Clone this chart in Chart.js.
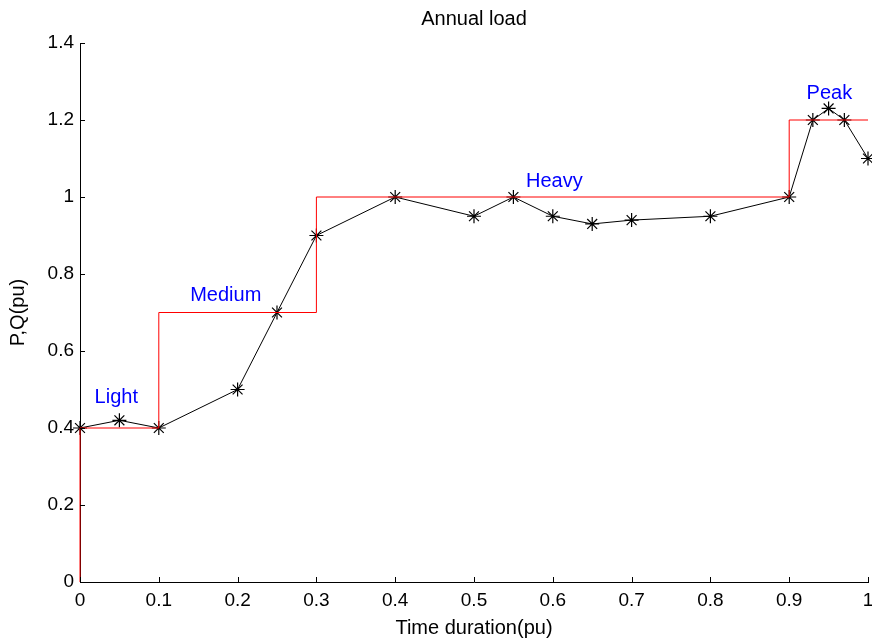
<!DOCTYPE html>
<html lang="en">
<head>
    <meta charset="UTF-8">
    <title>Annual load</title>
    <script src="https://cdn.jsdelivr.net/npm/chart.js"></script>
    <style>
        body { margin: 0; background: #fff; }
    </style>
</head>
<body>
    <canvas id="loadChart" width="872" height="643"></canvas>

    <script>
        // load curve (black, asterisk markers)
        var timePu = [0, 0.05, 0.1, 0.2, 0.25, 0.3, 0.4, 0.5, 0.55, 0.6, 0.65, 0.7, 0.8, 0.9, 0.93, 0.95, 0.97, 1.0];
        var loadPu = [0.4, 0.42, 0.4, 0.5, 0.7, 0.9, 1.0, 0.95, 1.0, 0.95, 0.93, 0.94, 0.95, 1.0, 1.2, 1.23, 1.2, 1.1];

        // load levels (red steps)
        var levelStart = [0, 0, 0.1, 0.3, 0.9, 1.0];
        var levelValue = [0, 0.4, 0.7, 1.0, 1.2, 1.2];

        // level names and where they sit
        var levelNames = ['Light', 'Medium', 'Heavy', 'Peak'];
        var labelX = [0.046, 0.185, 0.602, 0.951];
        var labelY = [0.48, 0.745, 1.04, 1.27];

        var xTicks = [0, 0.1, 0.2, 0.3, 0.4, 0.5, 0.6, 0.7, 0.8, 0.9, 1];
        var yTicks = [0, 0.2, 0.4, 0.6, 0.8, 1, 1.2, 1.4];

        var chartTitle = 'Annual load';
        var font = 'Liberation Sans, Arial, sans-serif';

        function tickText(v) { return String(Math.round(v * 10) / 10); }

        // title, inward tick marks and level names
        var extras = {
            id: 'extras',
            afterDraw: function(chart) {
                var c = chart.ctx;
                var xs = chart.scales.x, ys = chart.scales.y;
                var area = chart.chartArea;
                c.save();
                c.strokeStyle = '#000';
                c.lineWidth = 1;
                c.beginPath();
                xTicks.forEach(function(t) {
                    var px = Math.round(xs.getPixelForValue(t)) + 0.5;
                    c.moveTo(px, area.bottom);
                    c.lineTo(px, area.bottom - 5);
                });
                yTicks.forEach(function(t) {
                    var py = Math.round(ys.getPixelForValue(t)) + 0.5;
                    c.moveTo(area.left, py);
                    c.lineTo(area.left + 5, py);
                });
                c.stroke();

                c.textAlign = 'center';
                c.textBaseline = 'middle';
                c.fillStyle = '#000';
                c.font = '20px ' + font;
                c.fillText(chartTitle, (area.left + area.right) / 2, 19);

                c.fillStyle = '#0000ff';
                c.font = '20px ' + font;
                levelNames.forEach(function(name, i) {
                    c.fillText(name, xs.getPixelForValue(labelX[i]), ys.getPixelForValue(labelY[i]));
                });
                c.restore();
            }
        };

        var ctx = document.getElementById('loadChart').getContext('2d');
        var loadChart = new Chart(ctx, {
            type: 'scatter',
            data: {
                datasets: [
                    {
                        label: 'Levels',
                        data: levelStart.map(function(x, i) { return { x: x, y: levelValue[i] }; }),
                        showLine: true,
                        stepped: 'before',
                        borderColor: '#ff0000',
                        borderWidth: 1,
                        pointRadius: 0,
                        clip: false
                    },
                    {
                        label: 'Load',
                        data: timePu.map(function(x, i) { return { x: x, y: loadPu[i] }; }),
                        showLine: true,
                        borderColor: '#000',
                        borderWidth: 1,
                        pointStyle: 'star',
                        pointRadius: 7,
                        pointBorderColor: '#000',
                        pointBorderWidth: 1.2,
                        pointBackgroundColor: '#000',
                        clip: false
                    }
                ]
            },
            options: {
                responsive: false,
                animation: false,
                layout: { autoPadding: false, padding: { left: 0, right: 4, top: 43, bottom: 0 } },
                plugins: {
                    legend: { display: false },
                    tooltip: { enabled: false },
                    title: { display: false }
                },
                scales: {
                    x: {
                        type: 'linear',
                        min: 0, max: 1,
                        afterBuildTicks: function(s) { s.ticks = xTicks.map(function(v) { return { value: v }; }); },
                        afterFit: function(s) { s.height = 61; s.paddingRight = 0; s.paddingLeft = 0; },
                        grid: { display: false, drawTicks: false },
                        border: { display: true, color: '#000', width: 1 },
                        ticks: { color: '#000', padding: 7, maxRotation: 0, callback: tickText, font: { family: font, size: 19 } },
                        title: { display: true, text: 'Time duration(pu)', color: '#000', padding: 3, font: { family: font, size: 20 } }
                    },
                    y: {
                        type: 'linear',
                        min: 0, max: 1.4,
                        afterBuildTicks: function(s) { s.ticks = yTicks.map(function(v) { return { value: v }; }); },
                        afterFit: function(s) { s.width = 80; s.paddingTop = 0; s.paddingBottom = 0; },
                        grid: { display: false, drawTicks: false },
                        border: { display: true, color: '#000', width: 1 },
                        ticks: { color: '#000', padding: 6, callback: tickText, font: { family: font, size: 19 } },
                        title: { display: true, text: 'P,Q(pu)', color: '#000', padding: 6, font: { family: font, size: 20 } }
                    }
                }
            },
            plugins: [extras]
        });
    </script>
</body>
</html>
